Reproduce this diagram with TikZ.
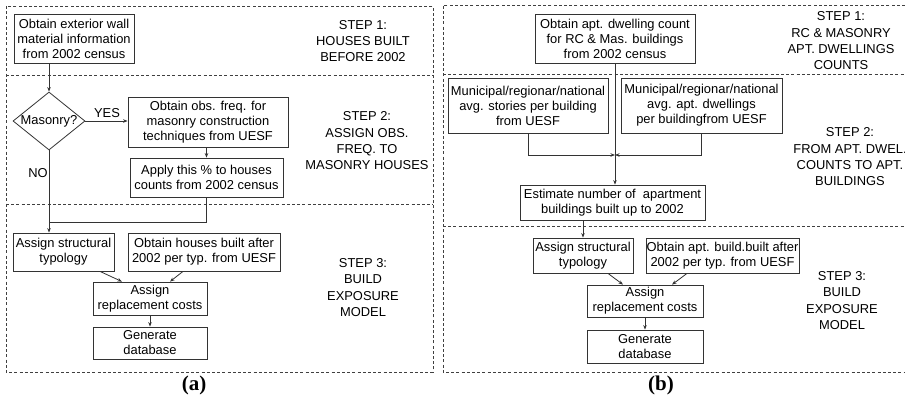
\documentclass[tikz,border=0pt]{standalone}
\usepackage{fontspec}
\setmainfont{Liberation Sans}
\newfontfamily\capfont{Liberation Serif}
\usetikzlibrary{arrows.meta,shapes.geometric}
\begin{document}
\begin{tikzpicture}[x=1pt,y=-1pt,
  every node/.style={font=\fontsize{12.9}{15}\selectfont},
  box/.style={draw=black!80, line width=0.8pt, inner sep=0pt, align=center},
  dia/.style={diamond, draw=black!80, line width=0.8pt, inner sep=0pt, aspect=1.24, minimum width=72pt, minimum height=58pt},
  lbl/.style={align=center, inner sep=0pt, font=\fontsize{12.9}{16.3}\selectfont},
  arr/.style={draw=black!80, line width=0.8pt, -{Stealth[length=4.5pt,width=3.5pt]}},
  ln/.style={draw=black!80, line width=0.8pt},
  sep/.style={draw=black!75, line width=0.6pt, dash pattern=on 3pt off 2.2pt},
  captext/.style={font=\capfont\bfseries\fontsize{21}{24}\selectfont, inner sep=0pt}
]
\useasboundingbox (0,0) rectangle (905,405);
\fill[white] (0,0) rectangle (905,405);

% ---------- panel (a) frame ----------
\draw[sep] (6,6) rectangle (433,372);
\draw[sep] (6,75) -- (433,75);
\draw[sep] (6,204) -- (433,204);

% ---------- panel (b) frame ----------
\draw[sep] (905,5) -- (443,5) -- (443,372) -- (905,372);
\draw[sep] (443,74) -- (905,74);
\draw[sep] (443,226) -- (905,226);

% ---------- panel (a) nodes ----------
\node[box, minimum width=120pt, minimum height=49pt] (a1) at (74,38.5)
  {Obtain exterior wall\\material information\\from 2002 census};
\node[dia] (dia) at (49,121) {Masonry?};
\node[box, minimum width=160pt, minimum height=50pt] (a2) at (208,122)
  {Obtain obs. freq. for\\masonry construction\\techniques from UESF};
\node[box, minimum width=153pt, minimum height=39pt] (a3) at (206.5,177.5)
  {Apply this \% to houses\\counts from 2002 census};
\node[box, minimum width=101pt, minimum height=38pt] (a4) at (63.5,252)
  {Assign structural\\typology};
\node[box, minimum width=152pt, minimum height=38pt] (a5) at (204,252)
  {Obtain houses built after\\2002 per typ. from UESF};
\node[box, minimum width=114pt, minimum height=33pt] (a6) at (150,298.5)
  {Assign\\replacement costs};
\node[box, minimum width=114pt, minimum height=32pt] (a7) at (150,343)
  {Generate\\database};

\node[inner sep=0pt] (yes) at (107,113) {YES};
\node[inner sep=0pt] (no) at (38,173) {NO};

\node[lbl] (s1a) at (363,41) {STEP 1:\\HOUSES BUILT\\BEFORE 2002};
\node[lbl] (s2a) at (367,141) {STEP 2:\\ASSIGN OBS.\\FREQ. TO\\MASONRY HOUSES};
\node[lbl] (s3a) at (363,287.5) {STEP 3:\\BUILD\\EXPOSURE\\MODEL};

\coordinate (ja) at (49,222);

\draw[arr] (dia.north |- a1.south) -- (dia.north);
\draw[arr] (dia.east) -- (dia.east -| a2.west);
\draw[arr] (a3.north |- a2.south) -- (a3.north);
\draw[ln] (a3.south) |- (ja);
\draw[arr] (dia.south) -- (dia.south |- a4.north);
\draw[arr] ([xshift=36.5pt]a4.south) -- ([xshift=-28pt]a6.north);
\draw[arr] ([xshift=-21pt]a5.south) -- ([xshift=20pt]a6.north);
\draw[arr] (a6.south) -- (a7.north);

% ---------- panel (b) nodes ----------
\node[box, minimum width=160pt, minimum height=49pt] (b1) at (615,38.5)
  {Obtain apt. dwelling count\\for RC \& Mas. buildings\\from 2002 census};
\node[box, minimum width=160pt, minimum height=55pt] (b2) at (528,105.5)
  {Municipal/regionar/national\\avg. stories per building\\from UESF};
\node[box, minimum width=161pt, minimum height=55pt] (b3) at (701.5,105.5)
  {Municipal/regionar/national\\avg. apt. dwellings\\per buildingfrom UESF};
\node[box, minimum width=185pt, minimum height=35pt] (b4) at (612.5,202.5)
  {Estimate number of\ \ apartment\\buildings built up to 2002};
\node[box, minimum width=100pt, minimum height=35pt] (b5) at (583,255.5)
  {Assign structural\\typology};
\node[box, minimum width=153pt, minimum height=35pt] (b6) at (722.5,255.5)
  {Obtain apt. build.built after\\2002 per typ. from UESF};
\node[box, minimum width=116pt, minimum height=32pt] (b7) at (645,301)
  {Assign\\replacement costs};
\node[box, minimum width=116pt, minimum height=33pt] (b8) at (645,346.5)
  {Generate\\database};

\node[lbl] (s1b) at (841,41) {STEP 1:\\RC \& MASONRY\\APT. DWELLINGS\\COUNTS};
\node[lbl] (s2b) at (850,157) {STEP 2:\\FROM APT. DWEL.\\COUNTS TO APT.\\BUILDINGS};
\node[lbl] (s3b) at (842,300.5) {STEP 3:\\BUILD\\EXPOSURE\\MODEL};

\coordinate (jb) at (615,155);

\draw[arr] (b1.south -| jb) -- (jb |- b4.north);
\draw[arr] (b2.south) |- (jb);
\draw[arr] (b3.south) |- (jb);
\draw[arr] (b5.north |- b4.south) -- (b5.north);
\draw[arr] ([xshift=25pt]b5.south) -- ([xshift=-22pt]b7.north);
\draw[arr] ([xshift=-35.5pt]b6.south) -- ([xshift=27pt]b7.north);
\draw[arr] (b7.south) -- (b8.north);

% ---------- captions ----------
\node[captext] (capa) at (194,385) {(a)};
\node[captext] (capb) at (661,385) {(b)};
\end{tikzpicture}
\end{document}
